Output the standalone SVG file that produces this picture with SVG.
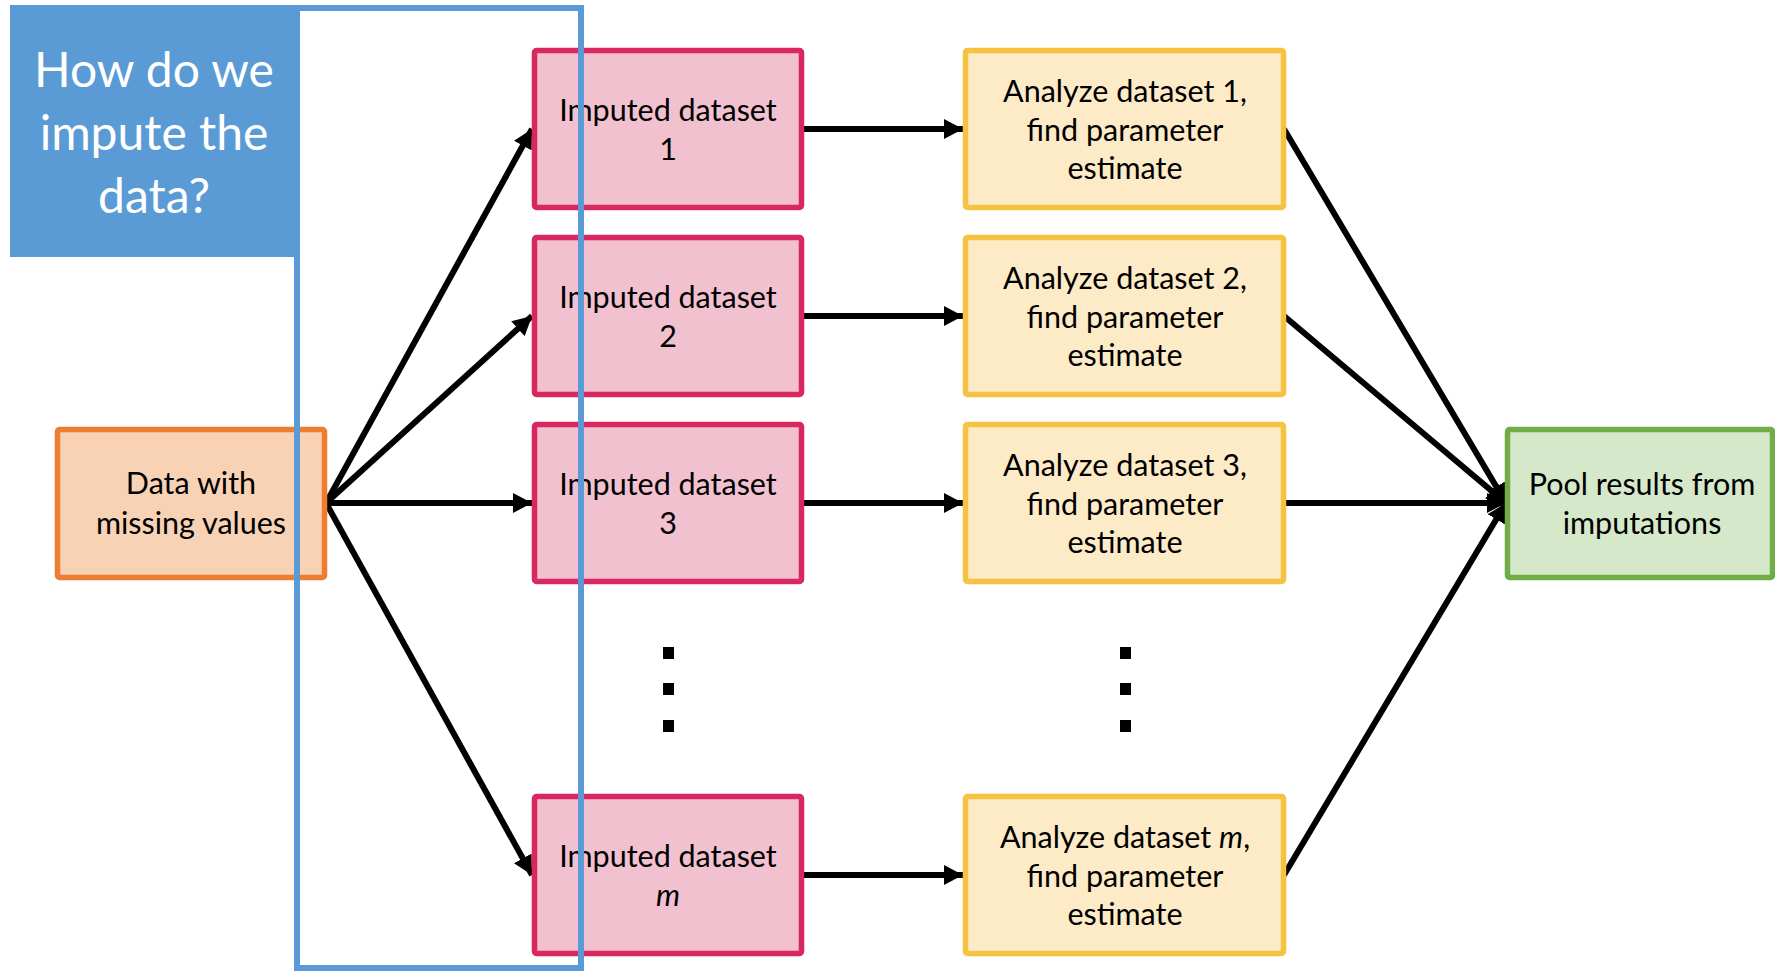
<svg xmlns="http://www.w3.org/2000/svg" width="1775" height="971" viewBox="0 0 1775 971">
  <defs>
    <style>
      .t { font-family: Lato, "Liberation Sans", sans-serif; font-size: 30.5px; fill: #000; text-anchor: middle; }
      .title { font-family: Lato, "Liberation Sans", sans-serif; font-size: 48px; fill: #fff; text-anchor: middle; }
      .box { stroke-width: 5.5; }
      .orange { fill: #F8D2B5; stroke: #ED7D31; }
      .pink { fill: #F2C1D0; stroke: #D9285F; }
      .yellow { fill: #FCEBC6; stroke: #F5C242; }
      .green { fill: #D5E8CA; stroke: #70AD47; }
      .conn { stroke: #000; stroke-width: 6; fill: none; marker-end: url(#arr); }
      .dot { fill: #000; }
    </style>
    <marker id="arr" markerUnits="userSpaceOnUse" markerWidth="20" markerHeight="20" refX="19" refY="10" orient="auto">
      <path d="M0,0 L19,10 L0,20 z" fill="#000"/>
    </marker>
  </defs>
  <rect width="1775" height="971" fill="#fff"/>

  <g id="title">
    <rect x="10" y="5" width="287" height="252" fill="#5B9BD5"/>
    <text class="title" x="154" y="87">How do we</text>
    <text class="title" x="154" y="150">impute the</text>
    <text class="title" x="154" y="213">data?</text>
  </g>

  <g id="connectors">
    <line class="conn" x1="326" y1="503" x2="532" y2="129"/>
    <line class="conn" x1="326" y1="503" x2="532" y2="316"/>
    <line class="conn" x1="326" y1="503" x2="532" y2="503"/>
    <line class="conn" x1="326" y1="503" x2="532" y2="875"/>
    <line class="conn" x1="804" y1="129" x2="963" y2="129"/>
    <line class="conn" x1="804" y1="316" x2="963" y2="316"/>
    <line class="conn" x1="804" y1="503" x2="963" y2="503"/>
    <line class="conn" x1="804" y1="875" x2="963" y2="875"/>
    <line class="conn" x1="1284" y1="129" x2="1506" y2="503"/>
    <line class="conn" x1="1284" y1="316" x2="1506" y2="503"/>
    <line class="conn" x1="1284" y1="503" x2="1506" y2="503"/>
    <line class="conn" x1="1284" y1="875" x2="1506" y2="503"/>
  </g>

  <g id="data">
    <rect class="box orange" x="57.5" y="429.5" width="267" height="148" rx="2"/>
    <text class="t" x="191" y="494">Data with</text>
    <text class="t" x="191" y="534">missing values</text>
  </g>

  <g id="imp1">
    <rect class="box pink" x="534.5" y="50.5" width="267" height="157" rx="2"/>
    <text class="t" x="668" y="121">Imputed dataset</text>
    <text class="t" x="668" y="160">1</text>
  </g>
  <g id="imp2">
    <rect class="box pink" x="534.5" y="237.5" width="267" height="157" rx="2"/>
    <text class="t" x="668" y="308">Imputed dataset</text>
    <text class="t" x="668" y="347">2</text>
  </g>
  <g id="imp3">
    <rect class="box pink" x="534.5" y="424.5" width="267" height="157" rx="2"/>
    <text class="t" x="668" y="495">Imputed dataset</text>
    <text class="t" x="668" y="534">3</text>
  </g>
  <g id="impm">
    <rect class="box pink" x="534.5" y="796.5" width="267" height="157" rx="2"/>
    <text class="t" x="668" y="867">Imputed dataset</text>
    <text class="t" x="668" y="906" font-style="italic">m</text>
  </g>

  <g id="ana1">
    <rect class="box yellow" x="965.5" y="50.5" width="318" height="157" rx="2"/>
    <text class="t" x="1125" y="102">Analyze dataset 1,</text>
    <text class="t" x="1125" y="141">find parameter</text>
    <text class="t" x="1125" y="179">estimate</text>
  </g>
  <g id="ana2">
    <rect class="box yellow" x="965.5" y="237.5" width="318" height="157" rx="2"/>
    <text class="t" x="1125" y="289">Analyze dataset 2,</text>
    <text class="t" x="1125" y="328">find parameter</text>
    <text class="t" x="1125" y="366">estimate</text>
  </g>
  <g id="ana3">
    <rect class="box yellow" x="965.5" y="424.5" width="318" height="157" rx="2"/>
    <text class="t" x="1125" y="476">Analyze dataset 3,</text>
    <text class="t" x="1125" y="515">find parameter</text>
    <text class="t" x="1125" y="553">estimate</text>
  </g>
  <g id="anam">
    <rect class="box yellow" x="965.5" y="796.5" width="318" height="157" rx="2"/>
    <text class="t" x="1125" y="848">Analyze dataset <tspan font-style="italic">m</tspan>,</text>
    <text class="t" x="1125" y="887">find parameter</text>
    <text class="t" x="1125" y="925">estimate</text>
  </g>

  <g id="pool">
    <rect class="box green" x="1507.5" y="429.5" width="265" height="148" rx="2"/>
    <text class="t" x="1642" y="495">Pool results from</text>
    <text class="t" x="1642" y="534">imputations</text>
  </g>

  <g id="ellipsis-left">
    <rect class="dot" x="663" y="647" width="11" height="12"/>
    <rect class="dot" x="663" y="683" width="11" height="12"/>
    <rect class="dot" x="663" y="720" width="11" height="12"/>
  </g>
  <g id="ellipsis-right">
    <rect class="dot" x="1120" y="647" width="11" height="12"/>
    <rect class="dot" x="1120" y="683" width="11" height="12"/>
    <rect class="dot" x="1120" y="720" width="11" height="12"/>
  </g>

  <g id="highlight">
    <rect x="297" y="8" width="284" height="960" fill="none" stroke="#5B9BD5" stroke-width="6"/>
  </g>
</svg>
